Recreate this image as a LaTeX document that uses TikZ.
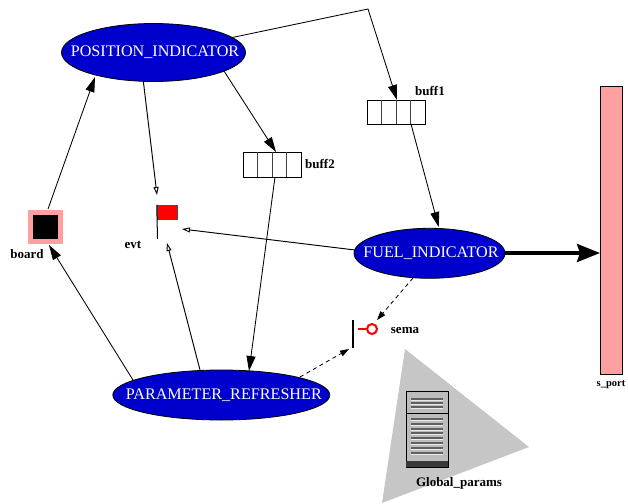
\documentclass[tikz,border=0pt]{standalone}
\usepackage{fontspec}
\setmainfont{Liberation Serif}
\usetikzlibrary{shapes.geometric,arrows.meta}
\definecolor{procblue}{RGB}{0,0,205}
\definecolor{pinkish}{RGB}{255,160,160}
\definecolor{trigrey}{RGB}{198,198,198}
\tikzset{
  proc/.style={ellipse,draw=black,line width=0.8pt,fill=procblue,text=white,font=\fontsize{16.15}{18}\selectfont,inner sep=0pt},
  lab/.style={font=\fontsize{13}{15}\selectfont\bfseries,inner sep=0pt},
  cellline/.style={line width=0.8pt,black!75},
  conn/.style={line width=0.85pt,-{Triangle[length=15pt,width=9pt]}},
  openconn/.style={line width=0.95pt,-{Triangle[open,length=8pt,width=5pt]}},
  dashconn/.style={line width=0.85pt,dash pattern=on 4pt off 3.5pt,-{Triangle[length=9pt,width=6pt]}},
  thickconn/.style={line width=3.4pt,-{Stealth[length=23pt,width=18pt,inset=3pt]}},
  stripe/.style={line width=1.2pt,black!62},
  stripelight/.style={line width=0.7pt,white!92!black}
}
\begin{document}
\begin{tikzpicture}[x=1pt,y=-1pt]
\useasboundingbox (0,0) rectangle (628,503);
% triangle
\fill[trigrey] (405,349) -- (529,447) -- (382,503) -- cycle;
% server
\filldraw[fill=trigrey!95!black,draw=black,line width=0.9pt] (406,391) rectangle (448,467);
\draw[black,line width=0.9pt] (406,413) -- (448,413);
\fill[black!78] (406,461) rectangle (448,467);
\foreach \yy in {399,403,407,419,424,429,433,438,443,448,453}{
  \draw[stripe] (411,\yy) -- (443,\yy);
  \draw[stripelight] (411,\yy+1.6) -- (443,\yy+1.6);
}
% ellipses
\node[proc,minimum width=184pt,minimum height=58pt] (pi) at (153.5,52.5) {\kern3pt\makebox[0pt]{\raisebox{-1pt}{POSITION\_INDICATOR}}};
\node[proc,minimum width=151pt,minimum height=50pt] (fi) at (429.5,253.3) {\kern3pt\makebox[0pt]{\raisebox{-1pt}{FUEL\_INDICATOR}}};
\node[proc,minimum width=217pt,minimum height=50pt] (pr) at (221.3,395) {\kern5pt\makebox[0pt]{\raisebox{-1pt}{PARAMETER\_REFRESHER}}};
% s_port
\node[draw=black,line width=0.6pt,fill=pinkish,minimum width=22pt,minimum height=288pt,inner sep=0pt] (sport) at (611,230) {};
\node[lab,font=\fontsize{10.5}{12}\selectfont\bfseries] (sportl) at (611,384.5) {s\_port};
% board
\node[fill=pinkish,minimum width=35pt,minimum height=34pt,inner sep=0pt] (board) at (45.5,226.5) {};
\node[fill=black,minimum width=25pt,minimum height=24pt,inner sep=0pt] (boardin) at (45.5,226.5) {};
\node[lab] (boardl) at (27,254.5) {board};
% flag
\node[draw=black!70,line width=0.5pt,fill=red,minimum width=20pt,minimum height=14pt,inner sep=0pt] (flag) at (167,212) {};
\coordinate (flagbase) at (157.5,239);
\draw[black,line width=1pt] (flag.north west) -- (flagbase);
\node[lab] (evtl) at (133,244.7) {evt};
% sema
\coordinate (semat) at (353,320);
\coordinate (semab) at (353,348);
\draw[black,line width=1.2pt] (semat) -- (semab);
\node[circle,draw=red,line width=2pt,fill=white,minimum size=10pt,inner sep=0pt] (semac) at (372,329) {};
\coordinate (semal) at (358,329);
\draw[red,line width=2pt] (semal) -- (semac);
\node[lab] (semalab) at (405,330.5) {sema};
% buffers
\node[draw=black,line width=0.8pt,minimum width=58pt,minimum height=24pt,inner sep=0pt] (b1) at (396,112) {};
\draw[cellline] (381.5,100) -- (381.5,124) (396,100) -- (396,124) (410.5,100) -- (410.5,124);
\node[lab] (b1l) at (430,91.5) {buff1};
\node[draw=black,line width=0.8pt,minimum width=58pt,minimum height=25pt,inner sep=0pt] (b2) at (272,164.5) {};
\draw[cellline] (257.5,152) -- (257.5,177) (272,152) -- (272,177) (286.5,152) -- (286.5,177);
\node[lab] (b2l) at (320,163.7) {buff2};
\node[lab] (gpl) at (459,483.7) {Global\_params};
% connector ends
\coordinate (bend) at (368,9);
\coordinate (pi1) at (230,38);
\coordinate (pi2) at (224,71);
\coordinate (pi3) at (143.3,81);
\coordinate (f1) at (157,195);
\coordinate (f2) at (182,229);
\coordinate (f3) at (167,243);
\coordinate (pit) at (95,77);
\coordinate (bdb) at (49,245);
\coordinate (bdt) at (48,209);
\coordinate (prl) at (133,380);
\coordinate (prt) at (200,370);
\coordinate (prr) at (249,371);
\coordinate (prs) at (300,377);
\coordinate (sl) at (349,349);
\coordinate (sr) at (377,320);
\coordinate (fb) at (413,278);
\coordinate (fl) at (355,250);
\coordinate (ft) at (438.7,227);
\coordinate (fe) at (505,253);
\coordinate (se) at (600,253);
\coordinate (b1t) at (397,100);
\coordinate (b1b) at (411,124);
\coordinate (b2t) at (276,152);
\coordinate (b2b) at (275,177);
% connectors
\draw[conn] (pi1) -- (bend) -- (b1t);
\draw[conn] (pi2) -- (b2t);
\draw[conn] (b2b) -- (prr);
\draw[conn] (b1b) -- (ft);
\draw[conn] (bdt) -- (pit);
\draw[conn] (prl) -- (bdb);
\draw[openconn] (pi3) -- (f1);
\draw[openconn] (fl) -- (f2);
\draw[openconn] (prt) -- (f3);
\draw[dashconn] (fb) -- (sr);
\draw[dashconn] (prs) -- (sl);
\draw[thickconn] (fe) -- (se);
\end{tikzpicture}
\end{document}
